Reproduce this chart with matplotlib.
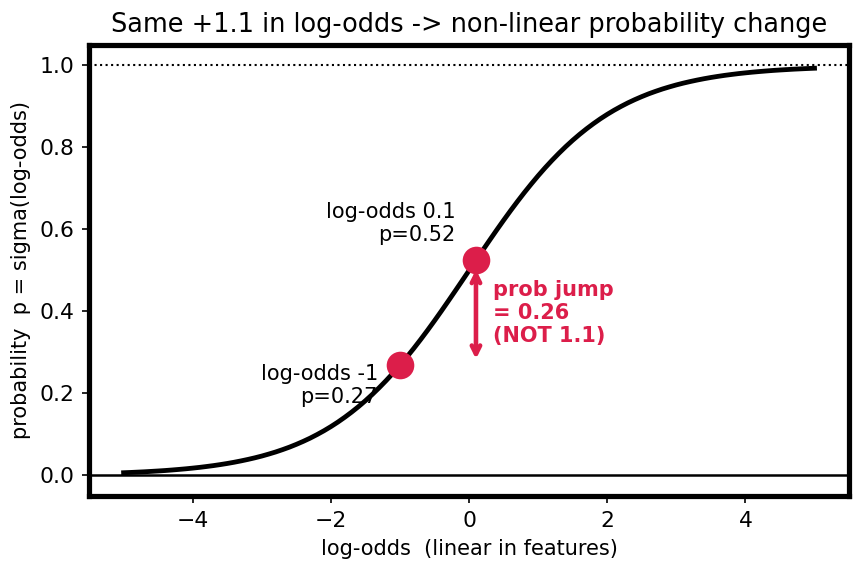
import matplotlib
matplotlib.use("Agg")
import matplotlib.pyplot as plt

# Curve samples (log-odds, probability)
log_odds = [round(-5.0 + 0.1 * i, 1) for i in range(101)]
prob_pos = [0.5000, 0.5250, 0.5498, 0.5744, 0.5987, 0.6225, 0.6457, 0.6682, 0.6900, 0.7109,
            0.7311, 0.7503, 0.7685, 0.7858, 0.8022, 0.8176, 0.8320, 0.8455, 0.8581, 0.8699,
            0.8808, 0.8909, 0.9002, 0.9089, 0.9168, 0.9241, 0.9309, 0.9370, 0.9427, 0.9478,
            0.9526, 0.9569, 0.9608, 0.9644, 0.9677, 0.9707, 0.9734, 0.9759, 0.9781, 0.9802,
            0.9820, 0.9837, 0.9852, 0.9866, 0.9879, 0.9890, 0.9900, 0.9910, 0.9918, 0.9926,
            0.9933]
prob_neg = [0.0067, 0.0074, 0.0082, 0.0090, 0.0100, 0.0110, 0.0121, 0.0134, 0.0148, 0.0163,
            0.0180, 0.0198, 0.0219, 0.0241, 0.0266, 0.0293, 0.0323, 0.0356, 0.0392, 0.0431,
            0.0474, 0.0522, 0.0573, 0.0630, 0.0691, 0.0759, 0.0832, 0.0911, 0.0998, 0.1091,
            0.1192, 0.1301, 0.1419, 0.1545, 0.1680, 0.1824, 0.1978, 0.2142, 0.2315, 0.2497,
            0.2689, 0.2891, 0.3100, 0.3318, 0.3543, 0.3775, 0.4013, 0.4256, 0.4502, 0.4750]
prob = prob_neg + prob_pos

# Highlighted points
pt_x = [-1.0, 0.1]
pt_p = [0.2689, 0.5250]
pt_labels = ["log-odds -1\np=0.27", "log-odds 0.1\np=0.52"]
jump_text = "prob jump\n= 0.26\n(NOT 1.1)"

red = "#dc1e4a"

fig, ax = plt.subplots(figsize=(862 / 150, 573 / 150), dpi=150)
fig.subplots_adjust(left=0.1033, right=0.985, top=0.9215, bottom=0.1344)

ax.plot(log_odds, prob, color="black", lw=2.3, zorder=2)
ax.axhline(0, color="black", lw=1.2, zorder=1)
ax.axhline(1, color="black", lw=1.0, ls=":", zorder=1)

ax.scatter(pt_x, pt_p, s=150, color=red, zorder=4)

# labels
ax.text(pt_x[0] - 0.32, pt_p[0] - 0.05, pt_labels[0], ha="right", va="center", fontsize=10)
ax.text(pt_x[1] - 0.3, pt_p[1] + 0.09, pt_labels[1], ha="right", va="center", fontsize=10)

# arrow
ax.annotate("", xy=(pt_x[1], pt_p[0]), xytext=(pt_x[1], pt_p[1]),
            arrowprops=dict(arrowstyle="<->", color=red, lw=2.2,
                            shrinkA=4.5, shrinkB=3), zorder=3)
ax.text(pt_x[1] + 0.25, (pt_p[0] + pt_p[1]) / 2, jump_text, color=red,
        fontweight="bold", ha="left", va="center", fontsize=10)

ax.set_xlim(-5.5, 5.5)
ax.set_ylim(-0.05, 1.05)
ax.set_xlabel("log-odds  (linear in features)", fontsize=10)
ax.set_ylabel("probability  p = sigma(log-odds)", fontsize=10)
ax.set_title("Same +1.1 in log-odds -> non-linear probability change", fontsize=12.3)
ax.tick_params(labelsize=10.5)
for s in ax.spines.values():
    s.set_linewidth(2.5)

fig.savefig("out.png", dpi=150)
